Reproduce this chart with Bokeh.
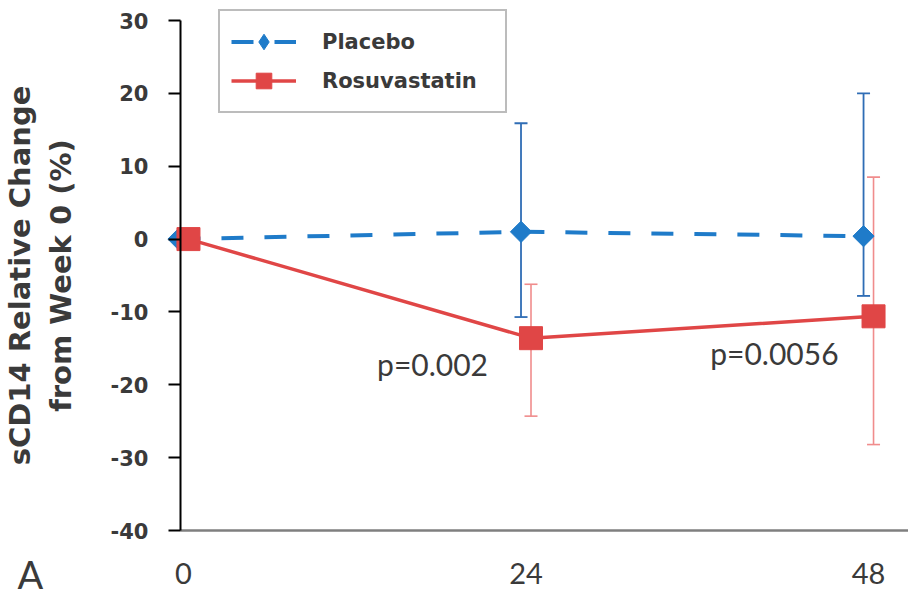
import numpy as np
from bokeh.plotting import figure
from bokeh.models import (ColumnDataSource, Whisker, TeeHead, Legend, LegendItem,
                          FixedTicker, Label, Range1d)
from bokeh.core.properties import value
from bokeh.embed import file_html
from bokeh.resources import INLINE

# ---- data ----
weeks = [0, 24, 48]
placebo_mean = [0.0, 1.0, 0.4]
placebo_lower = [np.nan, -10.7, -7.8]
placebo_upper = [np.nan, 15.9, 20.0]
rosu_mean = [0.0, -13.6, -10.6]
rosu_lower = [np.nan, -24.3, -28.2]
rosu_upper = [np.nan, -6.2, 8.5]
y_ticks = [-40, -30, -20, -10, 0, 10, 20, 30]
x_ticks = [0, 24, 48]
p_texts = ["p=0.002", "p=0.0056"]
p_weeks = [24, 48]
p_y = [-17.2, -15.7]

BLUE = "#1F7BC9"
BLUE_ERR = "#2F6DB5"
RED = "#E04646"
RED_ERR = "#F08C8C"
TXT = "#3a3a3a"

# frame covers the whole canvas; axes drawn at fixed locations
X_START, X_END = -12.82, 50.8
Y_START, Y_END = -49.19, 32.745
Y_AXIS_AT = -0.21

dodge_w = 0.35


def series_sources(mean, lower, upper, shift):
    xs = np.array(weeks, dtype=float) + shift
    pts = ColumnDataSource(dict(x=xs, y=mean))
    keep = [i for i in range(len(weeks)) if not np.isnan(lower[i])]
    err = ColumnDataSource(dict(x=xs[keep], lo=[lower[i] for i in keep],
                                hi=[upper[i] for i in keep]))
    return pts, err


src_p, err_p = series_sources(placebo_mean, placebo_lower, placebo_upper, -dodge_w)
src_r, err_r = series_sources(rosu_mean, rosu_lower, rosu_upper, dodge_w)

p = figure(width=908, height=597, output_backend="svg", toolbar_location=None,
           x_range=Range1d(X_START, X_END), y_range=Range1d(Y_START, Y_END),
           min_border_left=0, min_border_right=0, min_border_top=0,
           min_border_bottom=0)
p.outline_line_color = None
p.xgrid.grid_line_color = None
p.ygrid.grid_line_color = None
p.background_fill_color = "white"
p.border_fill_color = "white"

# error bars
wp = Whisker(base="x", lower="lo", upper="hi", source=err_p,
             line_color=BLUE_ERR, line_width=1.8,
             upper_head=TeeHead(size=13, line_color=BLUE_ERR, line_width=1.8),
             lower_head=TeeHead(size=13, line_color=BLUE_ERR, line_width=1.8))
wr = Whisker(base="x", lower="lo", upper="hi", source=err_r,
             line_color=RED_ERR, line_width=1.6,
             upper_head=TeeHead(size=13, line_color=RED_ERR, line_width=1.6),
             lower_head=TeeHead(size=13, line_color=RED_ERR, line_width=1.6))
p.add_layout(wp)
p.add_layout(wr)

lp = p.line("x", "y", source=src_p, line_color=BLUE, line_width=4, line_dash="22 21")
mp = p.scatter("x", "y", source=src_p, marker="square", angle=np.pi / 4, size=15,
               fill_color=BLUE, line_color=BLUE)
lr = p.line("x", "y", source=src_r, line_color=RED, line_width=3.5)
mr = p.scatter("x", "y", source=src_r, marker="square", size=23,
               fill_color=RED, line_color=RED)
# legend-only diamond glyph (its single entry is NaN, so nothing is drawn in the plot)
md = p.scatter(x=[np.nan], y=[np.nan], marker="diamond", size=20,
               fill_color=BLUE, line_color=BLUE)

# p-value annotations
src_t = ColumnDataSource(dict(x=p_weeks, y=p_y, t=p_texts, xo=[-38, -30]))
p.text("x", "y", text="t", source=src_t, x_offset="xo", text_align="right",
       text_baseline="middle", text_font=value("Lato"), text_font_size="30px",
       text_color=TXT)

# axes
ya = p.yaxis[0]
ya.fixed_location = Y_AXIS_AT
ya.bounds = (y_ticks[0], y_ticks[-1])
ya.ticker = FixedTicker(ticks=y_ticks)
ya.major_label_overrides = {t: str(t) for t in y_ticks}
ya.minor_tick_line_color = None
ya.major_tick_out = 12
ya.major_tick_in = 0
ya.major_tick_line_width = 2
ya.major_tick_line_color = "black"
ya.axis_line_width = 2
ya.axis_line_color = "black"
ya.major_label_text_font = "DejaVu Sans"
ya.major_label_text_font_style = "bold"
ya.major_label_text_font_size = "21px"
ya.major_label_text_color = TXT
ya.major_label_standoff = 20
ya.axis_label = "sCD14 Relative Change\nfrom Week 0 (%)"
ya.axis_label_text_font = "DejaVu Sans"
ya.axis_label_text_font_style = "bold"
ya.axis_label_text_font_size = "29px"
ya.axis_label_text_color = TXT
ya.axis_label_standoff = 30

xa = p.xaxis[0]
xa.fixed_location = y_ticks[0]
xa.bounds = (Y_AXIS_AT, X_END)
xa.ticker = FixedTicker(ticks=x_ticks)
xa.minor_tick_line_color = None
xa.major_tick_line_color = None
xa.axis_line_color = "#7f7f7f"
xa.axis_line_width = 2.5
xa.major_label_text_font = "Lato"
xa.major_label_text_font_size = "29px"
xa.major_label_text_color = TXT
xa.major_label_standoff = 26

# legend
legend = Legend(items=[LegendItem(label="Placebo", renderers=[lp, md]),
                       LegendItem(label="Rosuvastatin", renderers=[lr, mr])],
                location=(218, 484), orientation="vertical",
                label_text_font="DejaVu Sans", label_text_font_style="bold",
                label_text_font_size="21px", label_text_color=TXT,
                glyph_width=65, glyph_height=39, label_height=39, label_width=172,
                label_standoff=26, padding=11, spacing=0, margin=0,
                border_line_color="#7a7a7a", border_line_width=2,
                background_fill_color="white", background_fill_alpha=1.0)
p.add_layout(legend, "center")

# panel letter
p.add_layout(Label(x=17, y=1, x_units="screen", y_units="screen", text="A",
                   text_font="Lato", text_font_size="38px", text_color=TXT,
                   text_baseline="bottom"))

open("out.html", "w").write(file_html(p, INLINE))
